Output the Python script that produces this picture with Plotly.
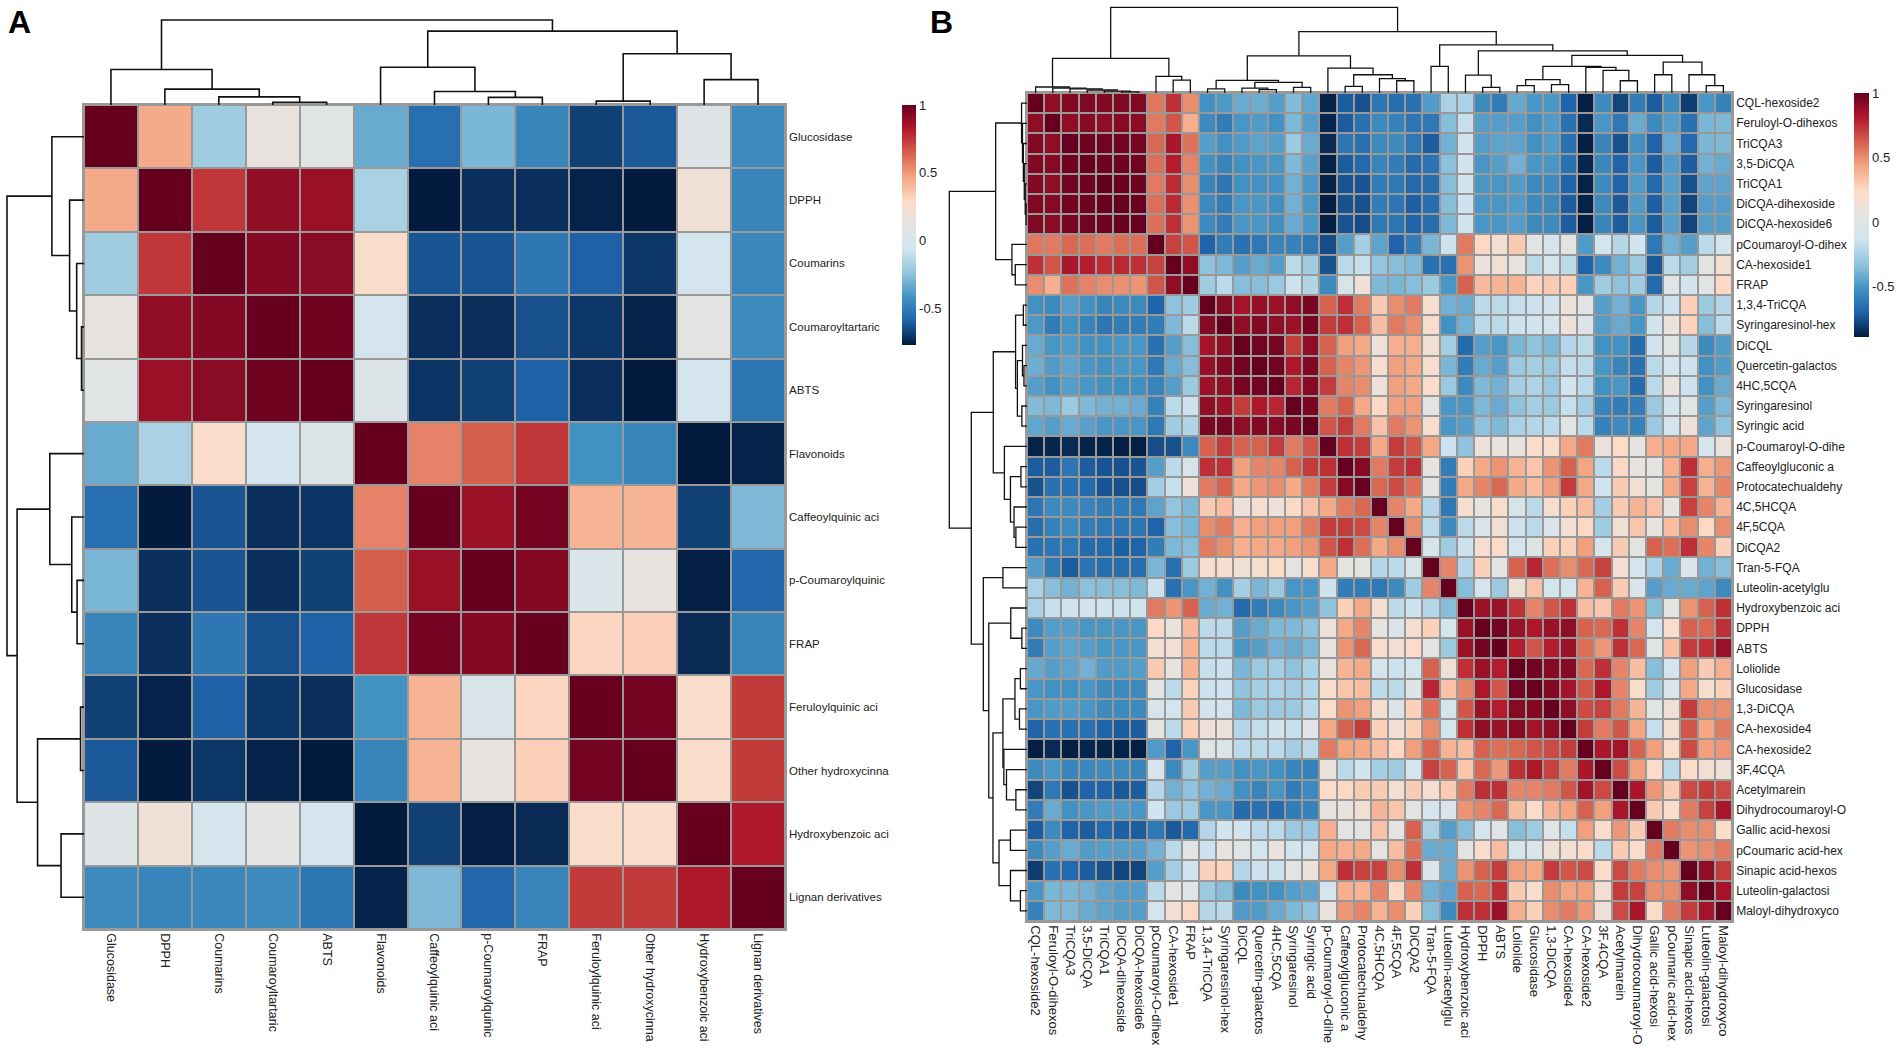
import numpy as np
import plotly.graph_objects as go

W, H = 1902, 1054

A_labels = ["Glucosidase", "DPPH", "Coumarins", "Coumaroyltartaric", "ABTS", "Flavonoids",
            "Caffeoylquinic aci", "p-Coumaroylquinic", "FRAP", "Feruloylquinic aci",
            "Other hydroxycinna", "Hydroxybenzoic aci", "Lignan derivatives"]
A_values = [
    [1, .45, -.2, .14, .09, -.33, -.55, -.29, -.47, -.68, -.62, .06, -.45],
    [.45, 1, .75, .9, .88, -.17, -.77, -.72, -.72, -.75, -.77, .2, -.47],
    [-.2, .75, 1, .93, .92, .27, -.63, -.63, -.52, -.6, -.7, -.03, -.46],
    [.14, .9, .93, 1, .98, -.03, -.72, -.72, -.64, -.7, -.75, .1, -.45],
    [.09, .88, .92, .98, 1, .05, -.71, -.68, -.6, -.72, -.77, -.03, -.53],
    [-.33, -.17, .27, -.03, .05, 1, .56, .65, .75, -.42, -.47, -.77, -.75],
    [-.55, -.77, -.63, -.72, -.71, .56, 1, .88, .97, .42, .42, -.68, -.28],
    [-.29, -.72, -.63, -.72, -.68, .65, .88, 1, .93, .02, .14, -.76, -.58],
    [-.47, -.72, -.52, -.64, -.6, .75, .97, .93, 1, .31, .33, -.73, -.47],
    [-.68, -.75, -.6, -.7, -.72, -.42, .42, .02, .31, 1, .97, .27, .74],
    [-.62, -.77, -.7, -.75, -.77, -.47, .42, .14, .33, .97, 1, .27, .74],
    [.06, .2, -.03, .1, -.03, -.77, -.68, -.76, -.73, .27, .27, 1, .83],
    [-.45, -.47, -.46, -.45, -.53, -.75, -.28, -.58, -.47, .74, .74, .83, 1],
]
A_tree = (1.0,
          (.417, 0, (.187, 1, (.095, 2, (.032, 3, 4)))),
          (.869,
           (.444, 5, (.159, 6, (.09, 7, 8))),
           (.603, (.045, 9, 10), (.298, 11, 12))))

B_labels = ["CQL-hexoside2", "Feruloyl-O-dihexos", "TriCQA3", "3,5-DiCQA", "TriCQA1",
            "DiCQA-dihexoside", "DiCQA-hexoside6", "pCoumaroyl-O-dihex", "CA-hexoside1", "FRAP",
            "1,3,4-TriCQA", "Syringaresinol-hex", "DiCQL", "Quercetin-galactos", "4HC,5CQA",
            "Syringaresinol", "Syringic acid", "p-Coumaroyl-O-dihe", "Caffeoylgluconic a",
            "Protocatechualdehy", "4C,5HCQA", "4F,5CQA", "DiCQA2", "Tran-5-FQA",
            "Luteolin-acetylglu", "Hydroxybenzoic aci", "DPPH", "ABTS", "Loliolide", "Glucosidase",
            "1,3-DiCQA", "CA-hexoside4", "CA-hexoside2", "3F,4CQA", "Acetylmarein",
            "Dihydrocoumaroyl-O", "Gallic acid-hexosi", "pCoumaric acid-hex", "Sinapic acid-hexos",
            "Luteolin-galactosi", "Maloyl-dihydroxyco"]
# Upper triangle of the symmetric matrix, each row starting at its diagonal cell
B_upper = [
    [1, .9, .93, .94, .93, .94, .94, .56, .75, .5, -.52, -.49, -.42, -.41, -.47, -.36, -.44, -.87, -.72, -.75, -.63, -.66, -.65, -.48, -.25, -.25, -.55, -.6, -.43, -.5, -.5, -.7, -.88, -.55, -.78, -.6, -.72, -.55, -.8, -.5, -.58],
    [1, .9, .92, .9, .92, .91, .55, .65, .4, -.55, -.6, -.5, -.48, -.52, -.37, -.47, -.86, -.72, -.65, -.55, -.58, -.63, -.62, -.35, -.17, -.47, -.47, -.47, -.52, -.48, -.65, -.85, -.5, -.62, -.42, -.55, -.47, -.65, -.38, -.37],
    [1, .98, .97, .97, .96, .6, .83, .57, -.47, -.52, -.48, -.45, -.47, -.3, -.42, -.85, -.63, -.65, -.55, -.55, -.62, -.72, -.4, -.13, -.47, -.45, -.45, -.52, -.48, -.65, -.88, -.57, -.75, -.52, -.7, -.42, -.68, -.38, -.37],
    [1, .98, .98, .97, .58, .8, .53, -.52, -.57, -.52, -.5, -.5, -.37, -.46, -.87, -.72, -.68, -.57, -.6, -.67, -.64, -.34, -.12, -.5, -.47, -.4, -.5, -.5, -.65, -.86, -.56, -.7, -.5, -.72, -.48, -.72, -.4, -.42],
    [1, .99, .98, .55, .76, .5, -.57, -.63, -.52, -.52, -.52, -.4, -.5, -.87, -.74, -.74, -.6, -.62, -.68, -.66, -.35, -.14, -.5, -.5, -.48, -.55, -.55, -.7, -.87, -.55, -.7, -.48, -.68, -.47, -.75, -.45, -.45],
    [1, .99, .58, .77, .49, -.55, -.6, -.5, -.5, -.53, -.4, -.5, -.88, -.75, -.75, -.6, -.63, -.71, -.66, -.35, -.15, -.5, -.5, -.48, -.55, -.55, -.72, -.87, -.55, -.73, -.48, -.71, -.47, -.78, -.47, -.47],
    [1, .58, .75, .48, -.55, -.6, -.5, -.5, -.53, -.42, -.5, -.88, -.74, -.76, -.62, -.63, -.7, -.66, -.37, -.14, -.5, -.5, -.47, -.55, -.55, -.72, -.88, -.57, -.72, -.5, -.72, -.47, -.78, -.47, -.47],
    [1, .7, .65, -.7, -.6, -.65, -.62, -.57, -.58, -.62, -.76, -.47, -.27, -.45, -.7, -.6, -.38, -.15, .55, .25, .17, .3, .03, -.07, .05, -.48, -.1, -.22, -.13, -.62, -.4, -.47, -.2, -.1],
    [1, .9, -.33, -.37, -.47, -.42, -.47, -.2, -.28, -.75, -.2, -.17, -.32, -.35, -.37, -.65, -.65, .48, .1, .15, .08, -.2, -.1, -.2, -.7, -.55, -.4, -.3, -.73, -.2, -.27, .05, .15],
    [1, -.28, -.2, -.35, -.35, -.3, -.15, -.23, -.55, -.07, .12, -.37, -.38, -.35, -.3, -.5, .62, .36, .38, .38, .27, .3, .28, -.5, -.28, -.33, -.28, -.68, .03, -.12, .03, .25],
    [1, .92, .85, .88, .87, .9, .95, .62, .75, .55, .3, .5, .55, .2, -.4, -.42, -.2, -.2, -.17, -.15, -.12, .12, .02, -.47, -.4, -.5, -.22, -.15, .28, -.3, -.22],
    [1, .9, .93, .9, .87, .96, .72, .75, .62, .35, .55, .5, .2, -.52, -.4, -.2, -.2, -.15, -.13, -.1, .12, -.03, -.47, -.42, -.5, -.12, .1, .27, -.35, -.2],
    [1, .97, .96, .72, .9, .62, .45, .42, .12, .4, .4, .15, -.27, -.67, -.47, -.5, -.38, -.33, -.37, -.22, -.2, -.52, -.52, -.67, -.12, .03, -.22, -.55, -.48],
    [1, .97, .82, .93, .62, .52, .47, .2, .45, .42, .2, -.38, -.6, -.42, -.47, -.3, -.27, -.3, -.18, -.2, -.5, -.57, -.65, -.2, -.1, -.15, -.52, -.48],
    [1, .78, .92, .72, .52, .5, .12, .45, .42, .22, -.3, -.55, -.37, -.4, -.27, -.24, -.3, -.12, -.2, -.52, -.5, -.67, -.2, .1, -.15, -.52, -.42],
    [1, .95, .55, .62, .42, .25, .45, .45, .05, -.5, -.5, -.37, -.42, -.33, -.27, -.3, -.17, -.27, -.57, -.6, -.6, -.3, -.12, .03, -.47, -.37],
    [1, .65, .72, .55, .33, .55, .48, .2, -.5, -.47, -.33, -.37, -.25, -.22, -.2, .03, -.2, -.58, -.55, -.58, -.3, -.1, .12, -.45, -.33],
    [1, .75, .72, .42, .72, .65, .42, -.15, -.33, .12, .1, .1, .22, .22, .42, .55, .1, .24, .06, .4, .42, .42, -.1, .1],
    [1, .92, .55, .72, .75, .08, -.6, .28, .42, .48, .38, .32, .48, .62, .43, -.2, .25, .1, .05, .4, .75, .4, .47],
    [1, .6, .68, .58, .05, -.6, .42, .52, .6, .42, .35, .45, .72, .42, -.13, .3, .15, .05, .42, .7, .38, .52],
    [1, .52, .42, -.22, -.62, .18, .08, .22, -.07, -.2, .18, .28, .35, -.27, .3, .38, .33, .07, .7, .52, .38],
    [1, .5, -.2, -.55, -.2, -.03, .15, -.15, -.2, -.03, .15, .25, -.28, .15, .32, .07, .35, .5, .25, .5],
    [1, -.07, -.28, -.15, .18, .24, -.1, 0, .28, .28, .45, -.1, .3, .05, .62, .58, .75, .52, .28],
    [1, .52, -.22, .28, .05, .62, .78, .58, .5, .6, .7, .18, -.1, -.25, -.42, -.05, -.4, -.35],
    [1, -.35, -.1, -.3, .13, .33, -.1, -.1, .38, .62, .3, -.05, -.47, -.42, -.42, -.45, -.55],
    [1, .87, .87, .75, .52, .65, .75, .35, .32, .55, .48, -.35, .05, .48, .62, .75],
    [1, .97, .87, .82, .87, .9, .62, .6, .75, .52, -.1, .22, .62, .6, .75],
    [1, .8, .65, .8, .87, .58, .47, .75, .6, .03, .35, .72, .75, .87],
    [1, .97, .92, .92, .6, .75, .52, .35, -.35, -.1, .45, .3, .4],
    [1, .93, .85, .65, .82, .52, .22, -.28, -.05, .42, .2, .28],
    [1, .9, .68, .7, .55, .38, .03, .14, .72, .5, .5],
    [1, .72, .55, .65, .43, -.17, .17, .65, .43, .55],
    [1, .83, .85, .62, .45, .22, .68, .45, .47],
    [1, .68, .45, .22, -.2, .23, .17, .13],
    [1, .83, .47, .3, .68, .72, .68],
    [1, .3, .22, .55, .7, .83],
    [1, .55, .5, .5, .23],
    [1, .48, .5, .55],
    [1, .9, .72],
    [1, .85],
    [1],
]
B_tree = (1.0,
          (.403,
           (.07, 0, (.058, 1, (.047, 2, (.035, 3, (.023, 4, (.012, 5, 6)))))),
           (.194, 7, (.151, 8, 9))),
          (.717,
           (.434,
            (.147, (.047, 10, 11), (.124, (.058, 12, (.039, 13, 14)), (.066, 15, 16))),
            (.291, 17, (.213, (.078, 18, 19), (.167, 20, (.143, 21, 22))))),
           (.562,
            (.31, 23, 24),
            (.492,
             (.209, 25, (.066, 26, 27)),
             (.438,
              (.31, (.155, (.085, 28, 29), (.097, 30, 31)),
               (.298, 32, (.264, 33, (.143, 34, 35)))),
              (.36, (.213, 36, 37), (.213, 38, (.085, 39, 40))))))))

A_zmin, B_zmin = -0.77, -0.89
cbar_ticks = [-0.5, 0, 0.5, 1]
cbar_text = ["-0.5", "0", "0.5", "1"]

RDBU = ["#021a3e", "#1f64aa", "#4393c3", "#92c5de", "#d1e5f0", "#e4e4e2",
        "#fddbc7", "#f4a582", "#d6604d", "#b2182b", "#67001f"]
colorscale = [[i / 10, c] for i, c in enumerate(RDBU)]


def full_from_upper(rows):
    n = len(rows)
    m = np.zeros((n, n))
    for i, r in enumerate(rows):
        assert len(r) == n - i, (i, len(r))
        m[i, i:] = r
        m[i:, i] = r
    return m


def segs(tree):
    """Segment lists (leaf position, height) for a nested (height, left, right) tree."""
    ps, hs = [], []

    def walk(node):
        if not isinstance(node, tuple):
            return float(node), 0.0
        h, a, b = node
        pa, ha = walk(a)
        pb, hb = walk(b)
        ps.extend([pa, pa, pb, pb, None])
        hs.extend([ha, h, h, hb, None])
        return (pa + pb) / 2, h

    walk(tree)
    return ps, hs


fig = go.Figure()
layout = {}
shapes = []


def fx(px):
    return px / W


def fy(py):
    return 1 - py / H


def panel(idx, labels, z, zmin, tree, box, top_root, left_root, cbar, lw, xfont, yfont, gap):
    x0, y0, x1, y1 = box
    n = len(labels)
    base = idx * 3 + 2
    names = [str(base), str(base + 1), str(base + 2)]
    # grey backing seen through the cell gaps
    shapes.append(dict(type="rect", xref="x%s domain" % names[0], yref="y%s domain" % names[0],
                       x0=0, x1=1, y0=0, y1=1, fillcolor="#999999", line_width=0, layer="below"))
    fig.add_trace(go.Heatmap(
        z=z, x=labels, y=labels, zmin=zmin, zmax=1, colorscale=colorscale,
        xgap=gap, ygap=gap, xaxis="x" + names[0], yaxis="y" + names[0], showscale=True,
        colorbar=dict(x=fx(cbar[0]), xanchor="left", xpad=0, ypad=0, y=fy(cbar[1]), yanchor="top",
                      lenmode="pixels", len=cbar[3], thicknessmode="pixels",
                      thickness=cbar[2] - cbar[0], outlinewidth=0, ticks="", ticklen=0,
                      tickmode="array", tickvals=cbar_ticks, ticktext=cbar_text,
                      tickfont=dict(family="Liberation Sans", size=13, color="#222222"))))
    layout["xaxis" + names[0]] = dict(
        domain=[fx(x0), fx(x1)], anchor="y" + names[0], side="bottom", type="category",
        tickangle=90, ticks="", ticklen=0, showgrid=False, zeroline=False, automargin=False,
        tickfont=dict(family="Liberation Sans", size=xfont, color="#222222"),
        showline=True, mirror=True, linecolor="#999999", linewidth=1.5)
    layout["yaxis" + names[0]] = dict(
        domain=[fy(y1), fy(y0)], anchor="x" + names[0], side="right", type="category",
        autorange="reversed", ticks="", ticklen=0, showgrid=False, zeroline=False,
        automargin=False,
        tickfont=dict(family="Liberation Sans", size=yfont, color="#222222"),
        showline=True, mirror=True, linecolor="#999999", linewidth=1.5)
    ps, hs = segs(tree)
    # top dendrogram
    fig.add_trace(go.Scatter(x=ps, y=hs, mode="lines", line=dict(color="#111111", width=lw),
                             xaxis="x" + names[1], yaxis="y" + names[1], showlegend=False,
                             hoverinfo="skip"))
    top_px = y0 - (y0 - top_root) * 1.03
    layout["xaxis" + names[1]] = dict(domain=[fx(x0), fx(x1)], anchor="y" + names[1],
                                      range=[-0.5, n - 0.5], visible=False)
    layout["yaxis" + names[1]] = dict(domain=[fy(y0), fy(top_px)], anchor="x" + names[1],
                                      range=[0, 1.03], visible=False)
    # left dendrogram
    fig.add_trace(go.Scatter(x=hs, y=ps, mode="lines", line=dict(color="#111111", width=lw),
                             xaxis="x" + names[2], yaxis="y" + names[2], showlegend=False,
                             hoverinfo="skip"))
    left_px = x0 - (x0 - left_root) * 1.03
    layout["xaxis" + names[2]] = dict(domain=[fx(left_px), fx(x0)], anchor="y" + names[2],
                                      range=[1.03, 0], visible=False)
    layout["yaxis" + names[2]] = dict(domain=[fy(y1), fy(y0)], anchor="x" + names[2],
                                      range=[n - 0.5, -0.5], visible=False)


panel(0, A_labels, np.array(A_values), A_zmin, A_tree, (84, 105, 785, 929), 20, 7,
      (902, 105, 916, 240), 1.6, 12.5, 11.5, 2)
panel(1, B_labels, full_from_upper(B_upper), B_zmin, B_tree, (1027, 93, 1732, 921), 7.3, 949.3,
      (1854, 93, 1869, 244), 1.3, 13, 12, 2)

fig.update_layout(
    width=W, height=H, margin=dict(l=0, r=0, t=0, b=0), autosize=False,
    paper_bgcolor="white", plot_bgcolor="white", showlegend=False, shapes=shapes,
    annotations=[
        dict(text="<b>A</b>", x=fx(6), y=fy(22), xref="paper", yref="paper", xanchor="left",
             yanchor="middle", showarrow=False,
             font=dict(family="Liberation Sans", size=32, color="black")),
        dict(text="<b>B</b>", x=fx(928), y=fy(22), xref="paper", yref="paper", xanchor="left",
             yanchor="middle", showarrow=False,
             font=dict(family="Liberation Sans", size=32, color="black")),
    ],
    **layout)
fig.write_html("out.html", config={"displayModeBar": False},
               post_script="document.body.style.margin='0';")
